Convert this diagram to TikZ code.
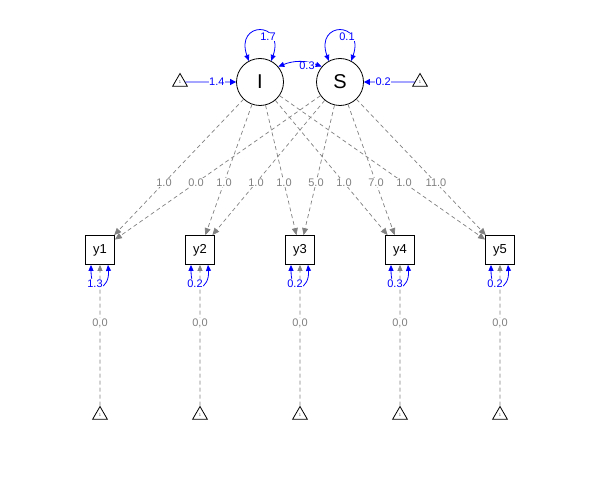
\documentclass[tikz,border=0pt]{standalone}
\usepackage{fontspec}
\setmainfont{Liberation Sans}
\usetikzlibrary{arrows.meta,shapes.geometric,calc}
\definecolor{edgegray}{RGB}{128,128,128}
\definecolor{labgray}{RGB}{128,128,128}
\definecolor{vblue}{RGB}{0,0,255}
\begin{document}
\begin{tikzpicture}[x=1pt,y=-1pt,
 lat/.style={circle,draw,line width=0.8pt,minimum size=47pt,inner sep=0pt,font=\fontsize{20}{20}\selectfont},
 man/.style={rectangle,draw,line width=0.8pt,minimum size=29pt,inner sep=0pt,font=\fontsize{13}{13}\selectfont},
 tri/.style={regular polygon,regular polygon sides=3,draw,line width=0.8pt,minimum size=17pt,inner sep=0pt,font=\fontsize{4}{4}\selectfont,text=black!70},
 load/.style={draw=edgegray,line width=0.7pt,dash pattern=on 4pt off 3pt,-{Triangle[length=7pt,width=6pt]}},
 mean/.style={draw=edgegray,line width=0.7pt,dash pattern=on 4pt off 3pt,-{Triangle[length=6pt,width=5pt]}},
 bint/.style={draw=vblue,line width=0.8pt,-{Triangle[length=6pt,width=6pt]}},
 vloop/.style={draw=vblue,line width=0.8pt,{Triangle[length=6pt,width=5pt]}-{Triangle[length=6pt,width=5pt]}},
 lab/.style={fill=white,inner sep=0.6pt,text=labgray,font=\fontsize{11}{11}\selectfont},
 blab/.style={fill=white,inner sep=0.6pt,text=vblue,font=\fontsize{11}{11}\selectfont}
]
\useasboundingbox (0,0) rectangle (600,500);

% latent nodes
\node[lat] (I) at (260,82) {I};
\node[lat] (S) at (340,82) {S};
\node[tri] (tL) at (180,82) {1};
\node[tri] (tR) at (420,82) {1};

% manifest nodes and intercept triangles
\foreach \i in {1,...,5} {
  \node[man] (y\i) at (\i*100,250) {y\i};
  \node[tri] (b\i) at (\i*100,415) {1};
}

% loadings
\foreach \i in {1,...,5} {
  \draw[load] (I) -- (y\i);
  \draw[load] (S) -- (y\i);
}

% means of manifest variables
\foreach \i in {1,...,5} {
  \draw[mean] (b\i) -- (y\i);
}

% latent means
\draw[bint] (tL) -- (I);
\draw[bint] (tR) -- (S);

% latent variances and covariance
\draw[vloop] (I.118) .. controls +(-14,-40) and +(14,-40) .. (I.62);
\draw[vloop] (S.118) .. controls +(-14,-40) and +(14,-40) .. (S.62);
\draw[vloop] (I.40) to[bend left=22] (S.140);

% residual variances
\foreach \i in {1,...,5} {
  \draw[vloop] ([xshift=-9pt]y\i.south) .. controls +(0,32) and +(2,24) .. ([xshift=8pt]y\i.south);
}

% labels
\node[blab] at (268,37) {1.7};
\node[blab] at (347,37) {0.1};
\node[blab] at (307,66) {0.3};
\node[blab] at ($(tL)!0.46!(I)$) {1.4};
\node[blab] at ($(tR)!0.46!(S)$) {0.2};

\node[lab] at ($(I)!0.6!(y1)$) {1.0};
\node[lab] at ($(S)!0.6!(y1)$) {0.0};
\node[lab] at ($(I)!0.6!(y2)$) {1.0};
\node[lab] at ($(S)!0.6!(y2)$) {1.0};
\node[lab] at ($(I)!0.6!(y3)$) {1.0};
\node[lab] at ($(S)!0.6!(y3)$) {5.0};
\node[lab] at ($(I)!0.6!(y4)$) {1.0};
\node[lab] at ($(S)!0.6!(y4)$) {7.0};
\node[lab] at ($(I)!0.6!(y5)$) {1.0};
\node[lab] at ($(S)!0.6!(y5)$) {11.0};

\node[blab] at ($(y1.south)+(-5,19)$) {1.3};
\node[blab] at ($(y2.south)+(-5,19)$) {0.2};
\node[blab] at ($(y3.south)+(-5,19)$) {0.2};
\node[blab] at ($(y4.south)+(-5,19)$) {0.3};
\node[blab] at ($(y5.south)+(-5,19)$) {0.2};

\foreach \i in {1,...,5} {
  \node[lab] at ($(b\i)!0.555!(y\i)$) {0,0};
}
\end{tikzpicture}
\end{document}
